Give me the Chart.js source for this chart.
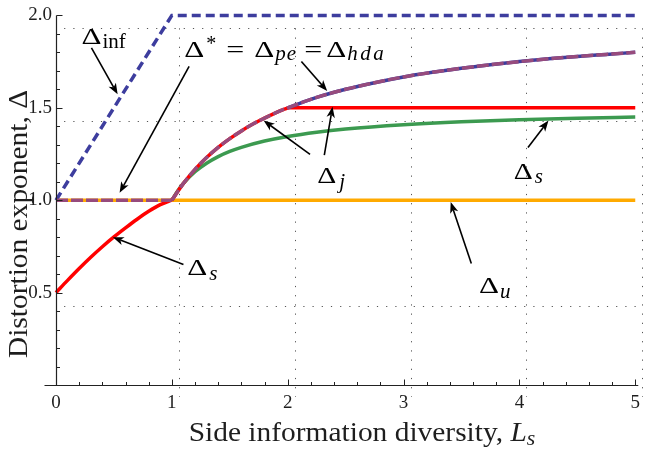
<!DOCTYPE html>
<html><head><meta charset="utf-8">
<script src="https://cdn.jsdelivr.net/npm/chart.js@4.4.0/dist/chart.umd.min.js"></script>
<style>html,body{margin:0;padding:0;background:#fff;}#wrap{width:647px;height:451px;}</style>
</head><body><div id="wrap"><canvas id="c" width="647" height="451"></canvas></div>
<script>
// ---- data ----
const xTicks = [0, 1, 2, 3, 4, 5];
const yTicks = [0.5, 1.0, 1.5, 2.0];
const gridX = [1.06, 2.06, 3.06, 4.06, 5.06];
const gridY = [1.93, 1.43, 0.43];

const uniformL = [0, 5];
const uniformD = [1, 1];

const infL = [0, 1, 5];
const infD = [1, 2, 2];

const starFlatL = [0, 1];
const starFlatD = [1, 1];

const curveL = [1, 1.1, 1.2, 1.3, 1.4, 1.5, 1.6, 1.7, 1.8, 1.9, 2.0, 2.25, 2.5, 2.75, 3, 3.25, 3.5, 3.75, 4, 4.25, 4.5, 4.75, 5];
const starD  = [1.0, 1.091, 1.167, 1.231, 1.286, 1.333, 1.375, 1.412, 1.444, 1.474, 1.5, 1.556, 1.6, 1.636, 1.667, 1.692, 1.714, 1.733, 1.75, 1.765, 1.778, 1.789, 1.8];

const sLowL = [0, 0.1, 0.2, 0.3, 0.4, 0.5, 0.6, 0.7, 0.8, 0.9, 1.0];
const sLowD = [0.5, 0.566, 0.630, 0.691, 0.748, 0.801, 0.850, 0.897, 0.940, 0.976, 1.0];

const jFlatL = [2, 5];
const jFlatD = [1.5, 1.5];

const sGreenL = [1, 1.05, 1.1, 1.2, 1.3, 1.4, 1.5, 1.6, 1.8, 2, 2.25, 2.5, 3, 3.5, 4, 4.5, 5];
const sGreenD = [1.0, 1.050, 1.091, 1.154, 1.200, 1.236, 1.264, 1.286, 1.320, 1.345, 1.368, 1.385, 1.408, 1.424, 1.435, 1.443, 1.450];

// ---- helpers ----
const pts = (xs, ys) => xs.map((x, i) => ({x, y: ys[i]}));
const jSplit = curveL.indexOf(2);

const C = {
  orange: '#ffaa00', red: '#ff0000', green: '#3c9a50',
  blue: '#3d3d9e', purple: '#974b7d', ink: '#1e1e1e'
};
const FF = '"Liberation Serif", "Times New Roman", serif';
const MAIN = '24px ' + FF;
const SUBI = 'italic 21px ' + FF;
const SUBR = '21px ' + FF;

function lineDS(data, color, order, extra) {
  return Object.assign({data, borderColor: color, borderWidth: 3.5, pointRadius: 0,
    fill: false, tension: 0, order, clip: false, borderCapStyle: 'butt'}, extra || {});
}

const datasets = [
  lineDS(pts(starFlatL, starFlatD), C.purple, 0, {borderDash: [12, 3]}),
  lineDS(pts(curveL, starD), C.purple, 0, {borderDash: [12, 3], cubicInterpolationMode: 'monotone'}),
  lineDS(pts(infL, infD), C.blue, 1, {borderDash: [9, 5]}),
  lineDS(pts(curveL.slice(jSplit), starD.slice(jSplit)), C.blue, 2, {cubicInterpolationMode: 'monotone'}),
  lineDS(pts(sLowL, sLowD), C.red, 3, {cubicInterpolationMode: 'monotone'}),
  lineDS(pts(curveL.slice(0, jSplit + 1), starD.slice(0, jSplit + 1)), C.red, 3, {cubicInterpolationMode: 'monotone'}),
  lineDS(pts(jFlatL, jFlatD), C.red, 3),
  lineDS(pts(sGreenL, sGreenD), C.green, 4, {cubicInterpolationMode: 'monotone'}),
  lineDS(pts(uniformL, uniformD), C.orange, 5)
];

// annotations in data coordinates: label left/baseline, parts with pixel offsets
const D = (dx, w) => ({t: 'Δ', font: MAIN, dx, w});
const labels = [
  {x: 0.22, y: 1.844, parts: [D(0, 20), {t: 'inf', font: SUBR, dx: 21, dy: 3.5}]},
  {x: 1.106, y: 1.776, parts: [D(0, 20), {t: '*', font: '20px ' + FF, dx: 22, dy: -7},
     {t: '=', font: MAIN, dx: 42, w: 18}, D(70, 20), {t: 'pe', font: SUBI, dx: 91, dy: 3, ls: 1},
     {t: '=', font: MAIN, dx: 120, w: 18}, D(142, 20), {t: 'hda', font: SUBI, dx: 163, dy: 3, ls: 2.5}]},
  {x: 2.256, y: 1.093, parts: [D(0, 19), {t: 'j', font: SUBI, dx: 22, dy: 5}]},
  {x: 3.951, y: 1.115, parts: [D(0, 19), {t: 's', font: SUBI, dx: 21, dy: 4}]},
  {x: 3.651, y: 0.498, parts: [D(0, 20), {t: 'u', font: SUBI, dx: 21, dy: 5}]},
  {x: 1.132, y: 0.596, parts: [D(0, 20), {t: 's', font: SUBI, dx: 22, dy: 5}]}
];
const arrows = [
  [0.306, 1.824, 0.532, 1.573],
  [1.149, 1.724, 0.549, 1.040],
  [2.118, 1.751, 2.341, 1.591],
  [2.193, 1.248, 1.792, 1.431],
  [2.316, 1.244, 2.387, 1.506],
  [4.074, 1.285, 4.251, 1.431],
  [3.585, 0.658, 3.407, 0.990],
  [1.100, 0.652, 0.491, 0.800]
];

function drawParts(ctx, parts, x, y) {
  ctx.fillStyle = '#000';
  ctx.textBaseline = 'alphabetic';
  ctx.textAlign = 'left';
  for (const p of parts) {
    ctx.font = p.font;
    ctx.letterSpacing = (p.ls || 0) + 'px';
    const m = ctx.measureText(p.t).width;
    const sx = p.w ? p.w / m : 1;
    ctx.save();
    ctx.translate(x + p.dx, y + (p.dy || 0));
    ctx.scale(sx, 1);
    ctx.fillText(p.t, 0, 0);
    ctx.restore();
    ctx.letterSpacing = '0px';
  }
}

function drawArrow(ctx, x1, y1, x2, y2) {
  const ang = Math.atan2(y2 - y1, x2 - x1);
  const L = 11, W = 4.2, N = 8;
  const ca = Math.cos(ang), sa = Math.sin(ang);
  const bx = x2 - L * ca, by = y2 - L * sa;
  const nx = x2 - N * ca, ny = y2 - N * sa;
  ctx.strokeStyle = '#000';
  ctx.lineWidth = 1.6;
  ctx.setLineDash([]);
  ctx.beginPath(); ctx.moveTo(x1, y1); ctx.lineTo(nx, ny); ctx.stroke();
  ctx.fillStyle = '#000';
  ctx.beginPath();
  ctx.moveTo(x2, y2);
  ctx.lineTo(bx - W * sa, by + W * ca);
  ctx.lineTo(nx, ny);
  ctx.lineTo(bx + W * sa, by - W * ca);
  ctx.closePath(); ctx.fill();
}

const deco = {
  id: 'deco',
  beforeDatasetsDraw(chart) {
    const {ctx, scales: {x: xs, y: ys}} = chart;
    ctx.save();
    ctx.strokeStyle = '#555';
    ctx.lineWidth = 1;
    ctx.setLineDash([1.2, 8]);
    for (const g of gridX) {
      const px = Math.round(xs.getPixelForValue(g)) + 0.5;
      ctx.beginPath(); ctx.moveTo(px, ys.getPixelForValue(1.93)); ctx.lineTo(px, ys.getPixelForValue(-0.065)); ctx.stroke();
    }
    for (const g of gridY) {
      const py = Math.round(ys.getPixelForValue(g)) + 0.5;
      ctx.beginPath(); ctx.moveTo(xs.getPixelForValue(0.07), py); ctx.lineTo(xs.getPixelForValue(5.07), py); ctx.stroke();
    }
    ctx.restore();
  },
  afterDraw(chart) {
    const {ctx, scales: {x: xs, y: ys}} = chart;
    ctx.save();
    ctx.setLineDash([]);
    const x0 = Math.round(xs.getPixelForValue(0)) + 0.5;
    const y0 = Math.round(ys.getPixelForValue(0)) + 0.5;
    ctx.strokeStyle = '#222';
    ctx.lineWidth = 1.2;
    ctx.beginPath(); ctx.moveTo(x0 - 12, y0); ctx.lineTo(xs.getPixelForValue(5) + 3, y0); ctx.stroke();
    ctx.beginPath(); ctx.moveTo(x0, ys.getPixelForValue(2)); ctx.lineTo(x0, y0); ctx.stroke();
    ctx.lineWidth = 1;
    for (let k = 1; k <= 25; k++) {
      const v = k * 0.2;
      const px = Math.round(xs.getPixelForValue(v)) + 0.5;
      const len = (k % 5 === 0) ? 6 : 3.5;
      ctx.beginPath(); ctx.moveTo(px, y0); ctx.lineTo(px, y0 - len); ctx.stroke();
    }
    for (let k = 1; k <= 20; k++) {
      const v = k * 0.1;
      const py = Math.round(ys.getPixelForValue(v)) + 0.5;
      const len = (k % 5 === 0) ? 6 : 3.5;
      ctx.beginPath(); ctx.moveTo(x0, py); ctx.lineTo(x0 + len, py); ctx.stroke();
    }
    // arrows and labels
    for (const a of arrows) {
      drawArrow(ctx, xs.getPixelForValue(a[0]), ys.getPixelForValue(a[1]), xs.getPixelForValue(a[2]), ys.getPixelForValue(a[3]));
    }
    for (const l of labels) drawParts(ctx, l.parts, xs.getPixelForValue(l.x), ys.getPixelForValue(l.y));
    // axis titles (stretched slightly to match the wider reference face)
    const SX = 1.09;
    ctx.fillStyle = C.ink;
    ctx.textBaseline = 'alphabetic';
    ctx.textAlign = 'left';
    ctx.font = '27px ' + FF;
    const t1 = 'Side information diversity, ';
    const w1 = ctx.measureText(t1).width;
    ctx.font = 'italic 27px ' + FF;
    const wL = ctx.measureText('L').width;
    ctx.font = 'italic 20px ' + FF;
    const ws = ctx.measureText('s').width;
    const total = (w1 + wL + ws) * SX;
    ctx.save();
    ctx.translate(362 - total / 2, 441);
    ctx.scale(SX, 1);
    ctx.font = '27px ' + FF; ctx.fillText(t1, 0, 0);
    ctx.font = 'italic 27px ' + FF; ctx.fillText('L', w1, 0);
    ctx.font = 'italic 20px ' + FF; ctx.fillText('s', w1 + wL, 4);
    ctx.restore();
    ctx.save();
    ctx.translate(27, 224);
    ctx.rotate(-Math.PI / 2);
    ctx.scale(SX, 1);
    ctx.font = '27px ' + FF;
    ctx.textAlign = 'center';
    ctx.fillText('Distortion exponent, Δ', 0, 0);
    ctx.restore();
    ctx.restore();
  }
};

new Chart(document.getElementById('c'), {
  type: 'line',
  data: {datasets},
  options: {
    responsive: false, animation: false, devicePixelRatio: 1,
    layout: {padding: {top: 10, right: 8, left: 0, bottom: 0}},
    plugins: {legend: {display: false}, tooltip: {enabled: false}},
    scales: {
      x: {
        type: 'linear', min: 0, max: 5,
        afterBuildTicks: s => { s.ticks = xTicks.map(v => ({value: v})); },
        afterFit: s => { s.height = 66; },
        grid: {display: false, drawTicks: false}, border: {display: false},
        ticks: {padding: 7, color: C.ink, font: {family: 'Liberation Serif', size: 19}, callback: v => String(v)}
      },
      y: {
        type: 'linear', min: 0, max: 2,
        afterBuildTicks: s => { s.ticks = yTicks.map(v => ({value: v})); },
        afterFit: s => { s.width = 56; },
        grid: {display: false, drawTicks: false}, border: {display: false},
        ticks: {padding: 4, color: C.ink, font: {family: 'Liberation Serif', size: 19}, callback: v => Number(v).toFixed(1)}
      }
    }
  },
  plugins: [deco]
});
</script>
</body></html>
